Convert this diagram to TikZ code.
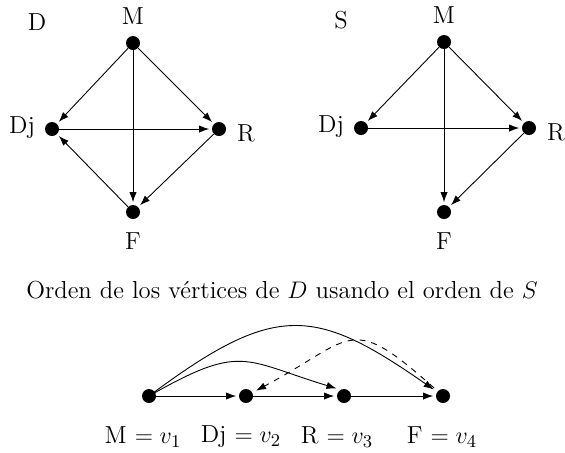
\documentclass[tikz,border=0pt]{standalone}
\usetikzlibrary{arrows.meta}
\begin{document}
\begin{tikzpicture}[x=0.5pt,y=-0.5pt,
  vtx/.style={circle,fill=black,inner sep=0pt,minimum size=7pt},
  lbl/.style={inner sep=1pt},
  arr/.style={-{Latex[length=5pt,width=3.6pt]},line width=0.45pt,shorten >=1.2pt},
  every node/.append style={font=\fontsize{12.3}{14}\selectfont}]
\useasboundingbox (0,0) rectangle (565,452);
% Left graph D
\node[vtx] (dM) at (133,43) {};
\node[vtx] (dDj) at (52,129) {};
\node[vtx] (dR) at (219,129) {};
\node[vtx] (dF) at (133,212) {};
\node[lbl] (tD) at (37,22) {D};
\node[lbl] (tdM) at (133,16) {M};
\node[lbl] (tdDj) at (22,128) {Dj};
\node[lbl] (tdR) at (246,133) {R};
\node[lbl] (tdF) at (133,241) {F};
\draw[arr] (dM) -- (dDj);
\draw[arr] (dM) -- (dR);
\draw[arr] (dM) -- (dF);
\draw[arr] (dDj) -- (dR);
\draw[arr] (dR) -- (dF);
\draw[arr] (dF) -- (dDj);
% Right graph S
\node[vtx] (sM) at (444,42) {};
\node[vtx] (sDj) at (361,128) {};
\node[vtx] (sR) at (529,128) {};
\node[vtx] (sF) at (444,212) {};
\node[lbl] (tS) at (341,20) {S};
\node[lbl] (tsM) at (444,15) {M};
\node[lbl] (tsDj) at (331,127) {Dj};
\node[lbl] (tsR) at (556,132) {R};
\node[lbl] (tsF) at (444,241) {F};
\draw[arr] (sM) -- (sDj);
\draw[arr] (sM) -- (sR);
\draw[arr] (sM) -- (sF);
\draw[arr] (sDj) -- (sR);
\draw[arr] (sR) -- (sF);
% Caption
\node[lbl] (cap) at (282,290) {Orden de los v\'ertices de $D$ usando el orden de $S$};
% Bottom ordering
\node[vtx] (v1) at (149,396) {};
\node[vtx] (v2) at (246,396) {};
\node[vtx] (v3) at (344,396) {};
\node[vtx] (v4) at (443,396) {};
\node[lbl] (l1) at (143,437) {M $=v_1$};
\node[lbl] (l2) at (241,437) {Dj $=v_2$};
\node[lbl] (l3) at (337,437) {R $=v_3$};
\node[lbl] (l4) at (442,437) {F $=v_4$};
\draw[arr] (v1) -- (v2);
\draw[arr] (v2) -- (v3);
\draw[arr] (v3) -- (v4);
\draw[arr,shorten >=2pt] (v1.center) .. controls (242,343) and (243,360) .. (v3.120);
\draw[arr,shorten >=2pt] (v1.center) .. controls (275,302) and (314,306) .. (v4);
\draw[arr,dashed,shorten >=2pt] (v4.center) .. controls (348,310) and (358,336) .. (v2);
\end{tikzpicture}
\end{document}
